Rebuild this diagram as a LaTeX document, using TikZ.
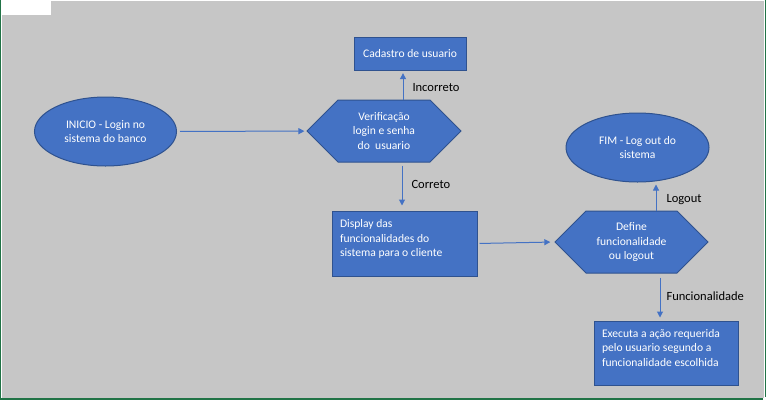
\documentclass[tikz,border=0pt]{standalone}
\usepackage{fontspec}
\setmainfont{Carlito}
\usetikzlibrary{shapes.geometric,shapes.symbols,arrows.meta,calc}

\definecolor{officeblue}{HTML}{4472C4}
\definecolor{borderblue}{HTML}{2F528F}
\definecolor{bggray}{HTML}{C6C6C6}
\definecolor{xlgreen}{HTML}{217346}

\tikzset{every picture/.style={line width=0.75pt}}
\tikzset{
  shapetxt/.style={font=\fontsize{8.7pt}{10.9pt}\selectfont, text=white, fill=officeblue, draw=borderblue, line width=0.75pt, align=center},
  startend/.style={shapetxt, ellipse, inner sep=0pt},
  decision/.style={shapetxt, signal, signal to=east and west, signal pointer angle=90, inner sep=0pt},
  procbox/.style={shapetxt, rectangle, inner sep=0pt},
  textbox/.style={shapetxt, rectangle, align=flush left, inner xsep=6pt, inner ysep=0pt, text depth=29.5pt},
  arr/.style={draw=officeblue, line width=0.75pt, -{Triangle[length=4.5pt,width=4.5pt]}},
  lbl/.style={font=\fontsize{9.4pt}{11pt}\selectfont, text=black, anchor=west, inner sep=0pt}
}

\begin{document}
\begin{tikzpicture}[x=0.75pt,y=0.75pt,yscale=-1,xscale=1]

\useasboundingbox (0,0) rectangle (766,400);
\fill [bggray] (2,1) rectangle (764,398);
\fill [white] (2,0) rectangle (51,15);
\fill [xlgreen] (0,0) rectangle (1.3,400);
\fill [xlgreen] (0,398.3) rectangle (763,400);
\fill [xlgreen] (765,0) rectangle (766,397);

\node (inicio) at (105.5,131.5) [startend, minimum width=106.5pt, minimum height=51.75pt] {INICIO - Login no\\sistema do banco};
\node (verif) at (384,131) [decision, minimum width=115.5pt, minimum height=46.5pt] {Verificação\\login e senha\\do\ \ usuario};
\node (cad) at (410,53.5) [procbox, minimum width=84pt, minimum height=24.75pt] {Cadastro de usuario};
\node (disp) at (404.5,243.5) [textbox, text width=96.75pt, minimum height=48.75pt] {Display das\\funcionalidades do\\sistema para o cliente};
\node (define) at (631.5,242) [decision, minimum width=114.75pt, minimum height=46.5pt] {Define\\funcionalidade\\ou logout};
\node (fim) at (637.5,147.5) [startend, minimum width=107.25pt, minimum height=51.75pt] {FIM - Log out do\\sistema};
\node (exec) at (666,353) [textbox, text width=96pt, minimum height=48pt] {Executa a ação requerida\\pelo usuario segundo a\\funcionalidade escolhida};

\coordinate (inc) at ($(verif.north)+(19,0)$);
\coordinate (cor) at ($(verif.south)+(18,0)$);
\coordinate (lo) at ($(define.north)+(24.5,0)$);
\coordinate (fu) at ($(define.south)+(28.5,0)$);

\draw [arr, shorten <=2.25pt, shorten >=1.5pt] (inicio) -- (verif);
\draw [arr, shorten >=2pt] (inc) -- (inc |- cad.south) node [lbl, pos=0.4, xshift=6.75pt] {Incorreto};
\draw [arr, shorten <=2.25pt, shorten >=3.75pt] (cor) -- (cor |- disp.north) node [lbl, pos=0.45, xshift=6.75pt] {Correto};
\draw [arr, shorten <=1.5pt, shorten >=3pt] (disp.east) -- (define.west);
\draw [arr, shorten >=1.5pt] (lo) -- (lo |- fim.south) node [lbl, pos=0.38, xshift=7.5pt] {Logout};
\draw [arr, shorten <=3pt, shorten >=2.25pt] (fu) -- (fu |- exec.north) node [lbl, pos=0.48, xshift=4.5pt] {Funcionalidade};

\end{tikzpicture}
\end{document}
